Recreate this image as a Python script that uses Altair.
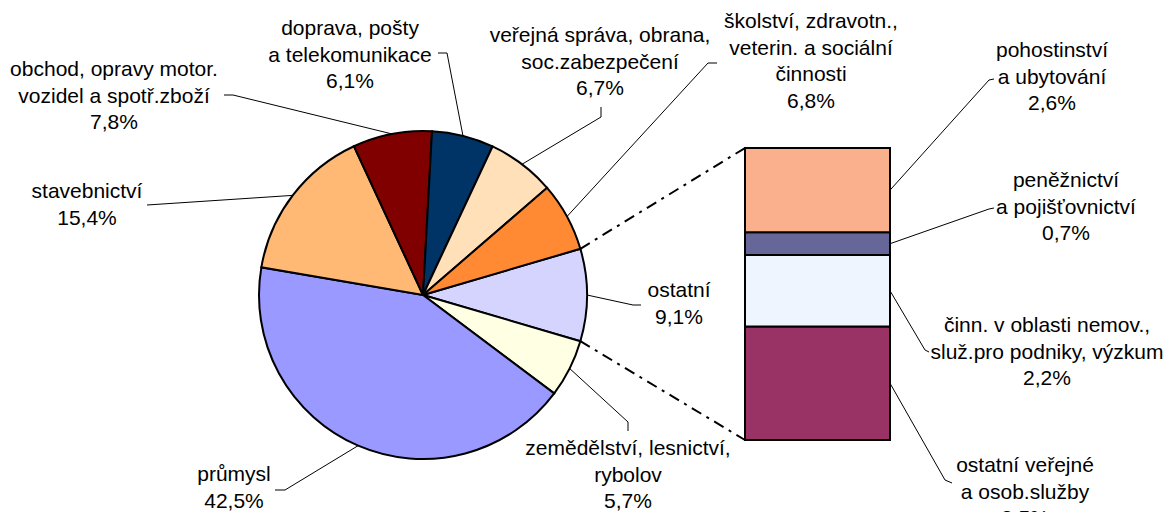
import math
import altair as alt
import pandas as pd

# ---------------- data ----------------
pie_names = [
    "ostatní",
    "zemědělství, lesnictví, rybolov",
    "průmysl",
    "stavebnictví",
    "obchod, opravy motor. vozidel a spotř.zboží",
    "doprava, pošty a telekomunikace",
    "veřejná správa, obrana, soc.zabezpečení",
    "školství, zdravotn., veterin. a sociální činnosti",
]
pie_values = [9.1, 5.7, 42.5, 15.4, 7.8, 6.1, 6.7, 6.8]
pie_label_lines = [
    ["ostatní"],
    ["zemědělství, lesnictví,", "rybolov"],
    ["průmysl"],
    ["stavebnictví"],
    ["obchod, opravy motor.", "vozidel a spotř.zboží"],
    ["doprava, pošty", "a telekomunikace"],
    ["veřejná správa, obrana,", "soc.zabezpečení"],
    ["školství, zdravotn.,", "veterin. a sociální", "činnosti"],
]
pie_colors = ["#D4D4FF", "#FFFFE4", "#9999FF", "#FFB974", "#800000",
              "#003366", "#FFE0B8", "#FF8A33"]

bar_names = [
    "ostatní veřejné a osob.služby",
    "činn. v oblasti nemov., služ.pro podniky, výzkum",
    "peněžnictví a pojišťovnictví",
    "pohostinství a ubytování",
]
bar_values = [3.5, 2.2, 0.7, 2.6]
bar_label_lines = [
    ["ostatní veřejné", "a osob.služby"],
    ["činn. v oblasti nemov.,", "služ.pro podniky, výzkum"],
    ["peněžnictví", "a pojišťovnictví"],
    ["pohostinství", "a ubytování"],
]
bar_colors = ["#993366", "#EEF5FF", "#666699", "#FAB08C"]

# ---------------- layout (page pixels) ----------------
W, H = 1159, 504
OFF = 8
CX, CY, R = 423, 295, 164
BX0, BX1, BY0, BY1 = 745, 890, 148, 440
FONT = "Liberation Sans"
FS = 21
LH = 26.5

pie_label_pos = [(679, 297), (628, 455), (234, 481), (87, 198),
                 (114, 76), (350, 35), (600, 42), (811, 28)]
pie_hooks = [[(641, 305), (633, 305)], [(628, 431), (628, 422)],
             [(275, 490), (285, 490)], [(147, 205)],
             [(224, 95), (233, 95)], [(438, 53), (447, 53)],
             [(601, 107), (601, 117)], [(717, 63), (708, 63)]]
bar_label_pos = [(1025, 472), (1047, 332), (1066, 187), (1052, 57)]
bar_hooks = [[(952, 483), (945, 480)], [(929, 352), (925, 350)],
             [(994, 208), (989, 209)], [(994, 79), (989, 80)]]


def pct(v):
    return f"{v:.1f}%".replace(".", ",")


total = sum(pie_values)
start = math.pi / 2 - math.pi * pie_values[0] / total

pie_df = pd.DataFrame({"name": pie_names, "value": pie_values,
                       "idx": list(range(len(pie_names)))})
bar_df = pd.DataFrame({"name": bar_names, "value": bar_values,
                       "idx": list(range(len(bar_names)))})

all_names = pie_names + bar_names
all_colors = pie_colors + bar_colors
color_scale = alt.Scale(domain=all_names, range=all_colors)

xs = alt.Scale(domain=[OFF, OFF + W], range=[0, W], nice=False, zero=False)
ys = alt.Scale(domain=[OFF, OFF + H], range=[0, H], nice=False, zero=False)

# text rows and leader lines
text_rows = []
lead_rows = []
cum = 0.0
for i, v in enumerate(pie_values):
    mid = start + 2 * math.pi * (cum + v / 2) / total
    cum += v
    ex, ey = CX + R * math.sin(mid), CY - R * math.cos(mid)
    lines = pie_label_lines[i] + [pct(v)]
    lx, ly = pie_label_pos[i]
    for k, t in enumerate(lines):
        text_rows.append({"x": lx, "y": ly + k * LH, "t": t})
    pts = pie_hooks[i] + [(ex, ey)]
    for k, (px, py) in enumerate(pts):
        lead_rows.append({"id": f"p{i}", "k": k, "x": px, "y": py})

btotal = sum(bar_values)
cum = 0.0
for i, v in enumerate(bar_values):
    mid = cum + v / 2
    cum += v
    ey = BY1 - (BY1 - BY0) * mid / btotal
    lines = bar_label_lines[i] + [pct(v)]
    lx, ly = bar_label_pos[i]
    for k, t in enumerate(lines):
        text_rows.append({"x": lx, "y": ly + k * LH, "t": t})
    pts = bar_hooks[i] + [(BX1, ey)]
    for k, (px, py) in enumerate(pts):
        lead_rows.append({"id": f"b{i}", "k": k, "x": px, "y": py})

text_df = pd.DataFrame(text_rows)
lead_df = pd.DataFrame(lead_rows)

a0 = start
a1 = start + 2 * math.pi * pie_values[0] / total
conn_df = pd.DataFrame([
    {"id": "top", "k": 0, "x": CX + R * math.sin(a0), "y": CY - R * math.cos(a0)},
    {"id": "top", "k": 1, "x": BX0, "y": BY0},
    {"id": "bot", "k": 0, "x": CX + R * math.sin(a1), "y": CY - R * math.cos(a1)},
    {"id": "bot", "k": 1, "x": BX0, "y": BY1},
])

# ---------------- layers ----------------
pie = alt.Chart(pie_df).mark_arc(outerRadius=R, stroke="black", strokeWidth=2).encode(
    theta=alt.Theta("value:Q", stack=True,
                    scale=alt.Scale(range=[start, start + 2 * math.pi])),
    order=alt.Order("idx:Q"),
    color=alt.Color("name:N", scale=color_scale, legend=None),
    x=alt.value(CX - OFF),
    y=alt.value(CY - OFF),
)

bar = alt.Chart(bar_df).transform_stack(
    stack="value", as_=["v0", "v1"], groupby=[], sort=[alt.SortField("idx")]
).mark_rect(stroke="black", strokeWidth=2).encode(
    x=alt.value(BX0 - OFF),
    x2=alt.value(BX1 - OFF),
    y=alt.Y("v0:Q", scale=alt.Scale(domain=[0, btotal], range=[BY1 - OFF, BY0 - OFF],
                                    nice=False, zero=False), axis=None),
    y2="v1:Q",
    color=alt.Color("name:N", scale=color_scale, legend=None),
)

leaders = alt.Chart(lead_df).mark_line(color="black", strokeWidth=1).encode(
    x=alt.X("x:Q", scale=xs, axis=None),
    y=alt.Y("y:Q", scale=ys, axis=None),
    detail="id:N",
    order="k:Q",
)

conn = alt.Chart(conn_df).mark_line(color="black", strokeWidth=2,
                                    strokeDash=[11, 6, 3, 6]).encode(
    x=alt.X("x:Q", scale=xs, axis=None),
    y=alt.Y("y:Q", scale=ys, axis=None),
    detail="id:N",
    order="k:Q",
)

labels = alt.Chart(text_df).mark_text(font=FONT, fontSize=FS, align="center",
                                      baseline="alphabetic", color="#000000").encode(
    x=alt.X("x:Q", scale=xs, axis=None),
    y=alt.Y("y:Q", scale=ys, axis=None),
    text="t:N",
)

chart = alt.layer(leaders, conn, pie, bar, labels).resolve_scale(
    x="independent", y="independent"
).properties(
    width=W, height=H,
    autosize=alt.AutoSizeParams(type="none"),
    padding=0,
    background="white",
).configure_view(stroke=None)

chart.save("out.html", embed_options={"renderer": "svg", "actions": False})
